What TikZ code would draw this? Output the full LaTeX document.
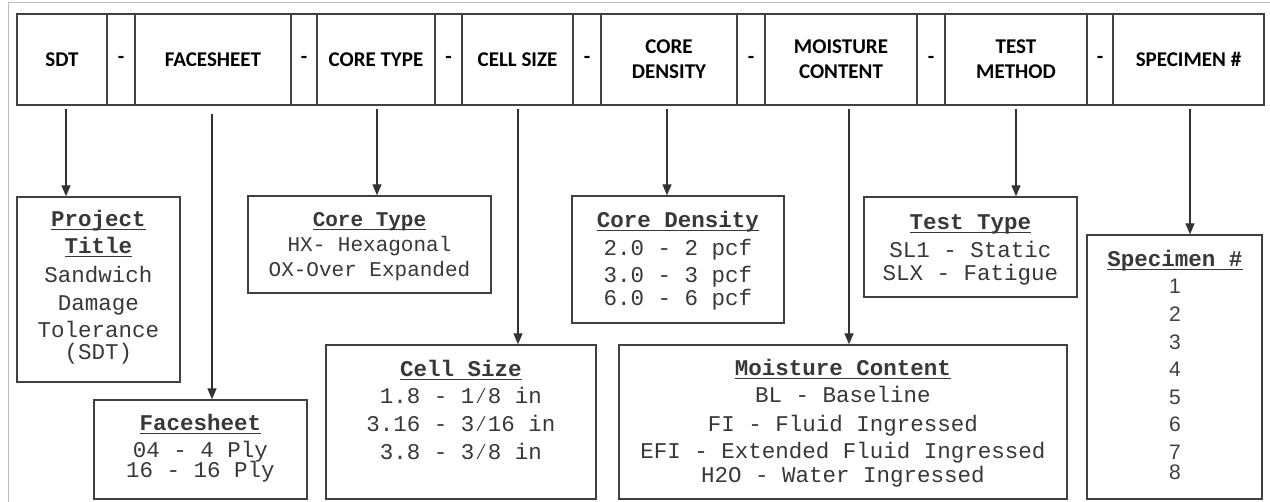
\documentclass[tikz,border=0pt]{standalone}
\usepackage{fontspec}
\setmainfont{Liberation Mono}
\newfontfamily\hdrfont{Carlito}
\newfontfamily\numfont{Liberation Sans}
\usetikzlibrary{arrows.meta}
\newcommand\myul[1]{\setbox0\hbox{#1}\rlap{\rule[-3.5pt]{\wd0}{1.3pt}}\box0}
\newcommand\hdash{\raisebox{-2pt}{-}}
\tikzset{
  cell/.style={draw=black!75, line width=1.6pt, minimum height=91pt, inner sep=0pt,
    font=\hdrfont\bfseries\fontsize{21}{25}\selectfont, align=center, text=black},
  infobox/.style={draw=black!75, line width=1.4pt, inner sep=0pt},
  tx/.style={anchor=base, inner sep=0pt, font=\fontsize{22.5}{27}\selectfont, text=black!78},
  txs/.style={anchor=base, inner sep=0pt, font=\fontsize{21}{25}\selectfont, text=black!78},
  num/.style={anchor=base, inner sep=0pt, font=\numfont\fontsize{21}{24}\selectfont, text=black!75},
  arr/.style={draw=black!80, line width=1.4pt, -{Triangle[length=11pt,width=9pt]}, shorten <=3pt},
  frame/.style={draw=black!25, line width=1pt}
}
\begin{document}
\begin{tikzpicture}[x=1pt,y=-1pt]
\useasboundingbox (0,0) rectangle (1270,502);
\fill[white] (0,0) rectangle (1270,502);
\draw[frame] (8,502) -- (8,3) -- (1270,3);

% header bar
\node[cell, minimum width=90pt]  (hSDT) at (62,59.5) {SDT};
\node[cell, minimum width=28pt]  (d1)   at (121,59.5) {\hdash};
\node[cell, minimum width=156pt] (hFS)  at (213,59.5) {FACESHEET};
\node[cell, minimum width=26pt]  (d2)   at (304,59.5) {\hdash};
\node[cell, minimum width=118pt] (hCT)  at (376,59.5) {CORE TYPE};
\node[cell, minimum width=27pt]  (d3)   at (448.5,59.5) {\hdash};
\node[cell, minimum width=111pt] (hCS)  at (517.5,59.5) {CELL SIZE};
\node[cell, minimum width=28pt]  (d4)   at (587,59.5) {\hdash};
\node[cell, minimum width=136pt] (hCD)  at (669,59.5) {CORE\\DENSITY};
\node[cell, minimum width=28pt]  (d5)   at (751,59.5) {\hdash};
\node[cell, minimum width=152pt] (hMC)  at (841,59.5) {MOISTURE\\CONTENT};
\node[cell, minimum width=28pt]  (d6)   at (931,59.5) {\hdash};
\node[cell, minimum width=142pt] (hTM)  at (1016,59.5) {TEST\\METHOD};
\node[cell, minimum width=26pt]  (d7)   at (1100,59.5) {\hdash};
\node[cell, minimum width=151pt] (hSP)  at (1188.5,59.5) {SPECIMEN \#};

% boxes
\node[infobox, minimum width=163pt, minimum height=185pt] (bPT) at (98.5,289.5) {};
\node[infobox, minimum width=213pt, minimum height=99pt]  (bFS) at (200.5,449.5) {};
\node[infobox, minimum width=243pt, minimum height=97pt]  (bCT) at (369.5,244.5) {};
\node[infobox, minimum width=270pt, minimum height=154pt] (bCS) at (461,422) {};
\node[infobox, minimum width=212pt, minimum height=127pt] (bCD) at (678,259.5) {};
\node[infobox, minimum width=448pt, minimum height=154pt] (bMC) at (843,422) {};
\node[infobox, minimum width=213pt, minimum height=100pt] (bTT) at (970.5,247) {};
\node[infobox, minimum width=175pt, minimum height=264pt] (bSP) at (1174.5,367) {};

% box texts
\node[tx] (pt1) at (98.5,227) {\myul{\textbf{Project}}};
\node[tx] (pt2) at (98.5,254) {\myul{\textbf{Title}}};
\node[tx] (pt3) at (98.5,283) {Sandwich};
\node[tx] (pt4) at (98.5,311) {Damage};
\node[tx] (pt5) at (98.5,338) {Tolerance};
\node[tx] (pt6) at (98.5,360) {(SDT)};

\node[tx] (fs1) at (200.5,431) {\myul{\textbf{Facesheet}}};
\node[tx] (fs2) at (200.5,458) {04 - 4 Ply};
\node[tx] (fs3) at (200.5,478) {16 - 16 Ply};

\node[txs] (ct1) at (369.5,227) {\myul{\textbf{Core Type}}};
\node[txs] (ct2) at (369.5,252) {HX- Hexagonal};
\node[txs] (ct3) at (369.5,277) {OX-Over Expanded};

\node[tx] (cs1) at (461,377) {\myul{\textbf{Cell Size}}};
\node[tx] (cs2) at (461,404) {1.8 - 1⁄8 in};
\node[tx] (cs3) at (461,432) {3.16 - 3⁄16 in};
\node[tx] (cs4) at (461,460) {3.8 - 3⁄8 in};

\node[tx] (cd1) at (678,228) {\myul{\textbf{Core Density}}};
\node[tx] (cd2) at (678,256) {2.0 - 2 pcf};
\node[tx] (cd3) at (678,283) {3.0 - 3 pcf};
\node[tx] (cd4) at (678,306) {6.0 - 6 pcf};

\node[tx] (tt1) at (970.5,230) {\myul{\textbf{Test Type}}};
\node[tx] (tt2) at (970.5,258) {SL1 - Static};
\node[tx] (tt3) at (970.5,281) {SLX - Fatigue};

\node[tx] (mc1) at (843,376) {\myul{\textbf{Moisture Content}}};
\node[tx] (mc2) at (843,403) {BL - Baseline};
\node[tx] (mc3) at (843,432) {FI - Fluid Ingressed};
\node[tx] (mc4) at (843,459) {EFI - Extended Fluid Ingressed};
\node[tx] (mc5) at (843,483) {H2O - Water Ingressed};

\node[tx] (sp0) at (1175,267) {\myul{\textbf{Specimen \#}}};
\node[num] (sp1) at (1175,294) {1};
\node[num] (sp2) at (1175,322) {2};
\node[num] (sp3) at (1175,350) {3};
\node[num] (sp4) at (1175,377) {4};
\node[num] (sp5) at (1175,405) {5};
\node[num] (sp6) at (1175,432) {6};
\node[num] (sp7) at (1175,460) {7};
\node[num] (sp8) at (1175,480) {8};

% connectors
\draw[arr] (66,0 |- hSDT.south) -- (66,0 |- bPT.north);
\draw[arr, shorten <=8pt] (212,0 |- hFS.south) -- (212,0 |- bFS.north);
\draw[arr] (377,0 |- hCT.south) -- (377,0 |- bCT.north);
\draw[arr] (518,0 |- hCS.south) -- (518,0 |- bCS.north);
\draw[arr] (667,0 |- hCD.south) -- (667,0 |- bCD.north);
\draw[arr] (849,0 |- hMC.south) -- (849,0 |- bMC.north);
\draw[arr] (1016,0 |- hTM.south) -- (1016,0 |- bTT.north);
\draw[arr] (1190,0 |- hSP.south) -- (1190,0 |- bSP.north);
\end{tikzpicture}
\end{document}
